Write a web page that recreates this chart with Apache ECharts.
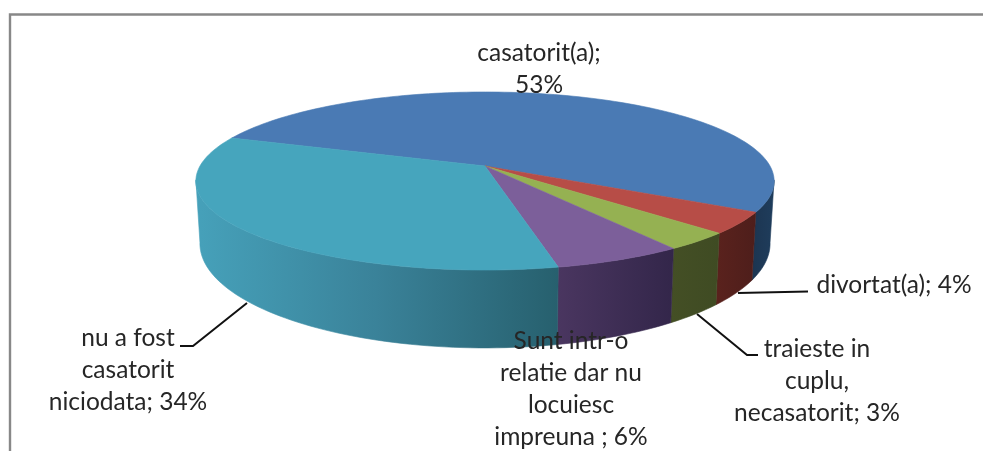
<!DOCTYPE html>
<html>
<head>
<meta charset="utf-8">
<style>
html,body{margin:0;padding:0;background:#fff;}
#chart{width:983px;height:451px;}
</style>
<script src="https://cdn.jsdelivr.net/npm/echarts@6/dist/echarts.min.js"></script>
</head>
<body>
<div id="chart"></div>
<script>
// categories and shares, same order as the slices run clockwise
var categories = ['casatorit(a)', 'divortat(a)', 'traieste in\ncuplu,\nnecasatorit', 'Sunt intr-o\nrelatie dar nu\nlocuiesc\nimpreuna ', 'nu a fost\ncasatorit\nniciodata'];
var separators = [';\n', '; ', '; ', '; ', '; '];
var values = [52.6, 3.9, 3.3, 6.2, 34];
var topColors = ['#4a7ab4', '#b74d47', '#95b152', '#7c5f9a', '#46a5bd'];
var wallColors = [
  ['#1f3d5c', '#1c3551'],
  ['#4e1e1b', '#5a221d'],
  ['#3f4b23', '#444f25'],
  ['#33264a', '#4a3660'],
  ['#27606e', '#3a8299', '#46a1ba']
];

// perspective of the disc: a circle goes to an ellipse, its centre sits above the ellipse's centre
var startDeg = 200, cx = 485, cy = 166, a = 285, b = 86.5, k = 0.1685;
var wallFrom = 369, wallTo = 531; // part of the rim which faces the viewer

function project(deg, level) {
  var t = deg * Math.PI / 180, u = Math.cos(t), v = Math.sin(t), w = 1 - k * v;
  var x = a * u / w, y = b * v / w;
  if (level == 1) { // bottom rim
    return [cx + x * 0.986, cy + 60 + y * 1.172];
  }
  return [cx + x, cy + y];
}

function arc(from, to, level) {
  var pts = [], n = Math.max(2, Math.ceil((to - from) / 1.5));
  for (var i = 0; i <= n; i++) {
    pts.push(project(from + (to - from) * i / n, level));
  }
  return pts;
}

var total = values.reduce(function (s, v) { return s + v; }, 0);
var ranges = [], run = startDeg;
values.forEach(function (v) {
  var end = run + v / total * 360;
  ranges.push([run, end]);
  run = end;
});

function renderWall(params) {
  var r = ranges[params.dataIndex];
  var from = Math.max(r[0], wallFrom), to = Math.min(r[1], wallTo);
  if (to <= from) return;
  var top = arc(from, to, 0), bottom = arc(from, to, 1).reverse();
  var xs = top.concat(bottom).map(function (p) { return p[0]; });
  var colors = wallColors[params.dataIndex];
  var stops = colors.map(function (c, i) { return { offset: i / (colors.length - 1), color: c }; });
  var fill = new echarts.graphic.LinearGradient(Math.max.apply(null, xs), 0, Math.min.apply(null, xs), 0, stops, true);
  return {
    type: 'polygon',
    shape: { points: top.concat(bottom) },
    style: { fill: fill, stroke: fill, lineWidth: 0.6 }
  };
}

function renderTop(params) {
  var r = ranges[params.dataIndex];
  return {
    type: 'polygon',
    shape: { points: [[cx, cy]].concat(arc(r[0], r[1], 0)) },
    style: { fill: topColors[params.dataIndex], stroke: topColors[params.dataIndex], lineWidth: 0.6 }
  };
}

function labelText(i) {
  return categories[i] + separators[i] + Math.round(values[i]) + '%';
}

function label(i, x, y) {
  return {
    type: 'text', z: 10, x: x, y: y,
    style: {
      text: labelText(i), align: 'center', verticalAlign: 'top',
      font: '24.5px Lato', lineHeight: 32, fill: '#262626'
    }
  };
}

function line(points, width, color) {
  return {
    type: 'polyline', z: 5,
    shape: { points: points },
    style: { stroke: color, lineWidth: width, fill: null }
  };
}

var myChart = echarts.init(document.getElementById('chart'), null, { renderer: 'canvas' });
var sliceData = values.map(function (v, i) { return { name: categories[i], value: v }; });

myChart.setOption({
  animation: false,
  backgroundColor: '#fff',
  series: [
    { type: 'custom', coordinateSystem: 'none', silent: true, z: 1, data: sliceData, renderItem: renderWall },
    { type: 'custom', coordinateSystem: 'none', silent: true, z: 2, data: sliceData, renderItem: renderTop }
  ],
  graphic: [
    line([[983, 14.5], [10, 14.5], [10, 451]], 2.4, '#888888'),
    line([[180, 346], [193, 346], [247, 303]], 2, '#111'),
    line([[808, 291.5], [738, 293]], 2, '#111'),
    line([[758, 355], [747, 355], [697, 314]], 2, '#111'),
    label(0, 539, 37),
    label(1, 894, 269),
    label(2, 817, 333),
    label(3, 571, 325),
    label(4, 128, 322)
  ]
});
</script>
</body>
</html>
